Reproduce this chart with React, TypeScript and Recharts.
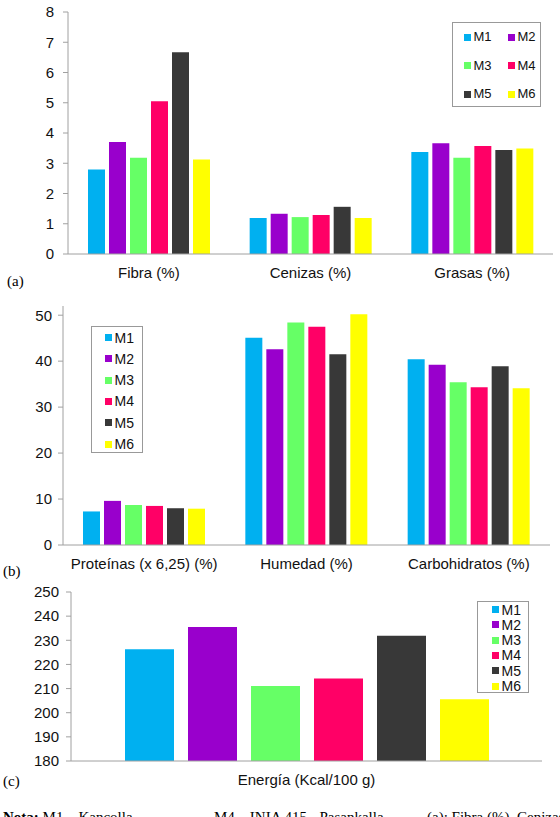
import { BarChart, Bar, XAxis, YAxis, Legend } from 'recharts'

// ─── Data ────────────────────────────────────────────────────────────────
const SERIES = ['M1', 'M2', 'M3', 'M4', 'M5', 'M6']
const COLORS = ['#00b0f0', '#9900cc', '#66ff66', '#ff0066', '#383838', '#ffff00']

// (a)
const CATS_A = ['Fibra (%)', 'Cenizas (%)', 'Grasas (%)']
const FIBRA = [2.79, 3.7, 3.18, 5.05, 6.67, 3.12]
const CENIZAS = [1.19, 1.33, 1.22, 1.29, 1.56, 1.19]
const GRASAS = [3.37, 3.66, 3.18, 3.57, 3.44, 3.49]
const TICKS_A = [0, 1, 2, 3, 4, 5, 6, 7, 8]

// (b)
const CATS_B = ['Proteínas (x 6,25) (%)', 'Humedad (%)', 'Carbohidratos (%)']
const PROTEINAS = [7.3, 9.6, 8.7, 8.5, 8.0, 7.9]
const HUMEDAD = [45.1, 42.6, 48.4, 47.5, 41.5, 50.2]
const CARBOHIDRATOS = [40.4, 39.2, 35.4, 34.3, 38.9, 34.1]
const TICKS_B = [0, 10, 20, 30, 40, 50]

// (c)
const CATS_C = ['Energía (Kcal/100 g)']
const ENERGIA = [226.3, 235.5, 211.1, 214.2, 231.9, 205.6]
const TICKS_C = [180, 190, 200, 210, 220, 230, 240, 250]

type Fila = { cat: string; [k: string]: number | string }

function tabel(cats: string[], rijen: number[][]): Fila[] {
  return cats.map((cat, i) => {
    const r: Fila = { cat }
    SERIES.forEach((s, j) => { r[s] = rijen[i][j] })
    return r
  })
}

const DATA_A = tabel(CATS_A, [FIBRA, CENIZAS, GRASAS])
const DATA_B = tabel(CATS_B, [PROTEINAS, HUMEDAD, CARBOHIDRATOS])
const DATA_C = tabel(CATS_C, [ENERGIA])

// ─── Styles ──────────────────────────────────────────────────────────────
const AXIS = '#a0a0a0'
const BORDER = '#c4c4c4'
const TXT = '#111'
const SANS = '"Liberation Sans", Arial, sans-serif'
const SERIF = '"Liberation Serif", "Times New Roman", serif'

type LegendOpts = {
  w: number; h: number; cols: number; colW: number
  x0: number; y0: number; rowH: number; fs: number; mk: number
}

function legendContent(o: LegendOpts) {
  return (props: { payload?: { value: string; color: string }[] }) => {
    const items = props.payload ?? SERIES.map((s, i) => ({ value: s, color: COLORS[i] }))
    return (
      <div style={{
        position: 'relative', width: o.w, height: o.h, boxSizing: 'border-box',
        border: '1px solid #999', background: '#fff',
      }}>
        {items.map((it, i) => {
          const c = i % o.cols
          const r = Math.floor(i / o.cols)
          const cy = o.y0 + r * o.rowH
          return (
            <div key={it.value} style={{
              position: 'absolute', left: o.x0 + c * o.colW, top: cy - 9, height: 18,
              display: 'flex', alignItems: 'center', fontSize: o.fs, color: TXT,
              fontFamily: SANS, lineHeight: '18px', whiteSpace: 'nowrap',
            }}>
              <span style={{ display: 'inline-block', width: o.mk, height: o.mk, background: it.color, marginRight: 2.5 }} />
              {it.value}
            </div>
          )
        })}
      </div>
    )
  }
}

function Grafiek({
  data, width, height, margin, yWidth, domain, ticks, tickMargin, catGap, barGap, legendPos, legend,
}: {
  data: Fila[]; width: number; height: number
  margin: { top: number; right: number; bottom: number; left: number }
  yWidth: number; domain: [number, number]; ticks: number[]; tickMargin: number
  catGap: number; barGap: number
  legendPos: { left: number; top: number }; legend: LegendOpts
}) {
  return (
    <BarChart width={width} height={height} data={data} margin={margin}
      barCategoryGap={catGap} barGap={barGap}>
      <XAxis dataKey="cat" height={30} interval={0} tickLine={false} tickSize={6} tickMargin={7}
        axisLine={{ stroke: AXIS }} tick={{ fontSize: 15, fill: TXT }} />
      <XAxis xAxisId="top" dataKey="cat" orientation="top" height={0} tick={false}
        tickLine={false} axisLine={{ stroke: BORDER }} />
      <YAxis width={yWidth} type="number" domain={domain} ticks={ticks} interval={0}
        tickSize={5} tickMargin={tickMargin} axisLine={{ stroke: AXIS }} tickLine={{ stroke: AXIS }}
        tick={{ fontSize: 15, fill: TXT }} />
      <YAxis yAxisId="right" orientation="right" width={0} type="number" domain={domain}
        tick={false} tickLine={false} axisLine={{ stroke: BORDER }} />
      <Legend layout="horizontal" verticalAlign="middle" align="center"
        wrapperStyle={{ left: legendPos.left, top: legendPos.top, width: legend.w, height: legend.h }}
        content={legendContent(legend) as never} />
      {SERIES.map((s, i) => (
        <Bar key={s} dataKey={s} name={s} fill={COLORS[i]} isAnimationActive={false} />
      ))}
    </BarChart>
  )
}

const label = (top: number, left: number, t: string) => (
  <div style={{
    position: 'absolute', top, left, fontFamily: SERIF, fontSize: 15,
    lineHeight: '17px', color: '#000',
  }}>{t}</div>
)

export default function App() {
  return (
    <div style={{
      position: 'absolute', top: 0, left: 0, width: 560, height: 817,
      overflow: 'hidden', background: '#fff', fontFamily: SANS,
    }}>
      <div style={{ position: 'absolute', top: 0, left: 0 }}>
        <Grafiek data={DATA_A} width={560} height={290}
          margin={{ top: 12, right: 7, bottom: 6, left: 0 }}
          yWidth={68} domain={[0, 8]} ticks={TICKS_A} tickMargin={9}
          catGap={20} barGap={4}
          legendPos={{ left: 452, top: 22 }}
          legend={{ w: 89, h: 85, cols: 2, colW: 44, x0: 11, y0: 14, rowH: 28.5, fs: 13, mk: 7 }} />
      </div>
      {label(273, 7, '(a)')}

      <div style={{ position: 'absolute', top: 290, left: 0 }}>
        <Grafiek data={DATA_B} width={560} height={300}
          margin={{ top: 16, right: 10, bottom: 15, left: 0 }}
          yWidth={63} domain={[0, 52]} ticks={TICKS_B} tickMargin={6}
          catGap={20} barGap={4}
          legendPos={{ left: 91, top: 36 }}
          legend={{ w: 52, h: 127, cols: 1, colW: 0, x0: 13, y0: 10.5, rowH: 21.3, fs: 14, mk: 7 }} />
      </div>
      {label(563, 3, '(b)')}

      <div style={{ position: 'absolute', top: 580, left: 0 }}>
        <Grafiek data={DATA_C} width={560} height={217}
          margin={{ top: 12, right: 18, bottom: 6, left: 0 }}
          yWidth={71} domain={[180, 250]} ticks={TICKS_C} tickMargin={7}
          catGap={54} barGap={14}
          legendPos={{ left: 477, top: 21 }}
          legend={{ w: 52, h: 92, cols: 1, colW: 0, x0: 14, y0: 7.5, rowH: 15.3, fs: 14, mk: 7 }} />
      </div>
      {label(773, 3, '(c)')}

      <div style={{
        position: 'absolute', top: 809, left: 3, fontFamily: SERIF, fontSize: 15,
        lineHeight: '17px', color: '#000', whiteSpace: 'nowrap',
      }}>
        <b>Nota:</b> M1 – Kancolla
      </div>
      <div style={{
        position: 'absolute', top: 809, left: 214, fontFamily: SERIF, fontSize: 15,
        lineHeight: '17px', color: '#000', whiteSpace: 'nowrap',
      }}>
        M4 – INIA 415 - Pasankalla
      </div>
      <div style={{
        position: 'absolute', top: 809, left: 427, fontFamily: SERIF, fontSize: 15,
        lineHeight: '17px', color: '#000', whiteSpace: 'nowrap',
      }}>
        (a): Fibra (%), Cenizas (%)
      </div>
    </div>
  )
}
